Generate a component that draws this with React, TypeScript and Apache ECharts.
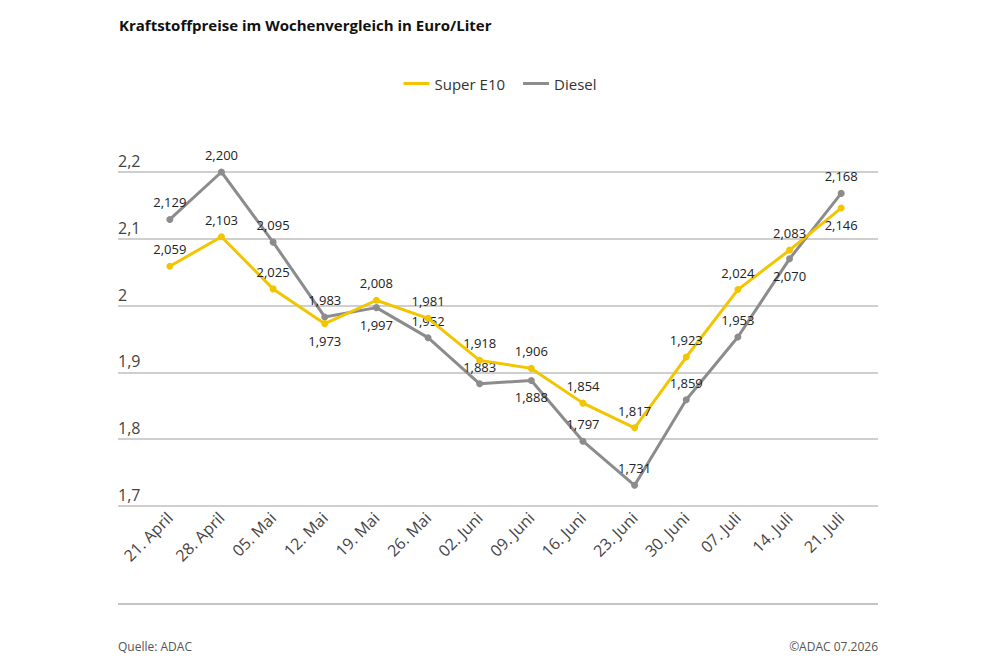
import React, { useEffect, useRef } from "react";
import * as echarts from "echarts";

const weeks = [
  "21. April", "28. April", "05. Mai", "12. Mai", "19. Mai", "26. Mai",
  "02. Juni", "09. Juni", "16. Juni", "23. Juni", "30. Juni", "07. Juli",
  "14. Juli", "21. Juli",
];
const superE10 = [
  2.059, 2.103, 2.025, 1.973, 2.008, 1.981, 1.918, 1.906, 1.854, 1.817,
  1.923, 2.024, 2.083, 2.146,
];
const diesel = [
  2.129, 2.2, 2.095, 1.983, 1.997, 1.952, 1.883, 1.888, 1.797, 1.731,
  1.859, 1.953, 2.07, 2.168,
];
// indices whose value label sits below the marker
const e10LabelsBelow = [3, 13];
const dieselLabelsBelow = [4, 7, 12];

const yTicks = [1.7, 1.8, 1.9, 2.0, 2.1, 2.2];

const YELLOW = "#f2c500";
const GREY = "#8c8c8c";
const FONT = "'Open Sans', 'Noto Sans', sans-serif";

const fmt = (v: number, digits: number) =>
  v.toFixed(digits).replace(".", ",");

function seriesData(values: number[], below: number[]) {
  return values.map((v, i) => ({
    value: v,
    label: {
      position: below.includes(i) ? "bottom" : "top",
    },
  }));
}

export default function App() {
  const ref = useRef<HTMLDivElement>(null);

  useEffect(() => {
    if (!ref.current) return;
    const chart = echarts.init(ref.current, undefined, { renderer: "svg" });

    const labelStyle = {
      show: true,
      distance: 7,
      fontSize: 13,
      color: "#222",
      fontFamily: FONT,
      formatter: (p: any) => fmt(p.value, 3),
    };

    chart.setOption({
      animation: false,
      backgroundColor: "#fff",
      textStyle: { fontFamily: FONT },
      title: {
        text: "Kraftstoffpreise im Wochenvergleich in Euro/Liter",
        left: 114,
        top: 12,
        textStyle: {
          fontSize: 15,
          fontWeight: "bold",
          color: "#111",
          fontFamily: FONT,
        },
      },
      legend: {
        top: 71,
        left: "center",
        itemWidth: 26,
        itemHeight: 3,
        itemGap: 18,
        icon: "rect",
        textStyle: { fontSize: 15, color: "#333", fontFamily: FONT },
        data: [
          { name: "Super E10", itemStyle: { color: YELLOW } },
          { name: "Diesel", itemStyle: { color: GREY } },
        ],
      },
      grid: [
        { left: 144, right: 133, top: 172, bottom: 161 },
        { left: 118, right: 122, top: 172, bottom: 161 },
      ],
      xAxis: [
        {
          type: "category",
          gridIndex: 0,
          data: weeks,
          boundaryGap: true,
          axisLine: { show: false },
          axisTick: { show: false },
          axisLabel: {
            rotate: 45,
            margin: 9,
            fontSize: 16,
            color: "#444",
            fontFamily: FONT,
          },
        },
        {
          type: "category",
          gridIndex: 1,
          data: weeks,
          show: false,
        },
      ],
      yAxis: [
        {
          type: "value",
          gridIndex: 0,
          min: 1.7,
          max: 2.2,
          interval: 0.1,
          show: false,
          splitLine: { show: false },
        },
        {
          type: "value",
          gridIndex: 1,
          min: 1.7,
          max: 2.2,
          interval: 0.1,
          axisLine: { show: false },
          axisTick: { show: false },
          axisLabel: {
            inside: true,
            margin: 0,
            verticalAlign: "bottom",
            align: "left",
            padding: [0, 0, 3, 0],
            fontSize: 16,
            color: "#444",
            fontFamily: FONT,
            formatter: (v: number) => {
              const t = yTicks.find((x) => Math.abs(x - v) < 1e-6);
              if (t === undefined) return "";
              return Math.abs(t - 2) < 1e-6 ? "2" : fmt(t, 1);
            },
          },
          splitLine: { show: true, lineStyle: { color: "#cfcfcf", width: 2 } },
        },
      ],
      series: [
        {
          name: "Super E10",
          type: "line",
          xAxisIndex: 0,
          yAxisIndex: 0,
          data: seriesData(superE10, e10LabelsBelow),
          symbol: "circle",
          symbolSize: 7,
          z: 3,
          lineStyle: { color: YELLOW, width: 3 },
          itemStyle: { color: YELLOW },
          label: labelStyle,
        },
        {
          name: "Diesel",
          type: "line",
          xAxisIndex: 0,
          yAxisIndex: 0,
          data: seriesData(diesel, dieselLabelsBelow),
          symbol: "circle",
          symbolSize: 7,
          z: 2,
          lineStyle: { color: GREY, width: 3 },
          itemStyle: { color: GREY },
          label: labelStyle,
        },
      ],
      graphic: [
        {
          type: "line",
          shape: { x1: 118, y1: 604, x2: 878, y2: 604 },
          style: { stroke: "#c4c4c4", lineWidth: 2 },
        },
        {
          type: "text",
          left: 118,
          top: 640,
          style: {
            text: "Quelle: ADAC",
            fontSize: 12,
            fill: "#555",
            fontFamily: FONT,
          },
        },
        {
          type: "text",
          right: 122,
          top: 640,
          style: {
            text: "©ADAC 07.2026",
            fontSize: 12,
            fill: "#555",
            fontFamily: FONT,
          },
        },
      ],
    });

    return () => chart.dispose();
  }, []);

  return (
    <div
      ref={ref}
      style={{ position: "fixed", left: 0, top: 0, width: 1000, height: 667 }}
    />
  );
}
